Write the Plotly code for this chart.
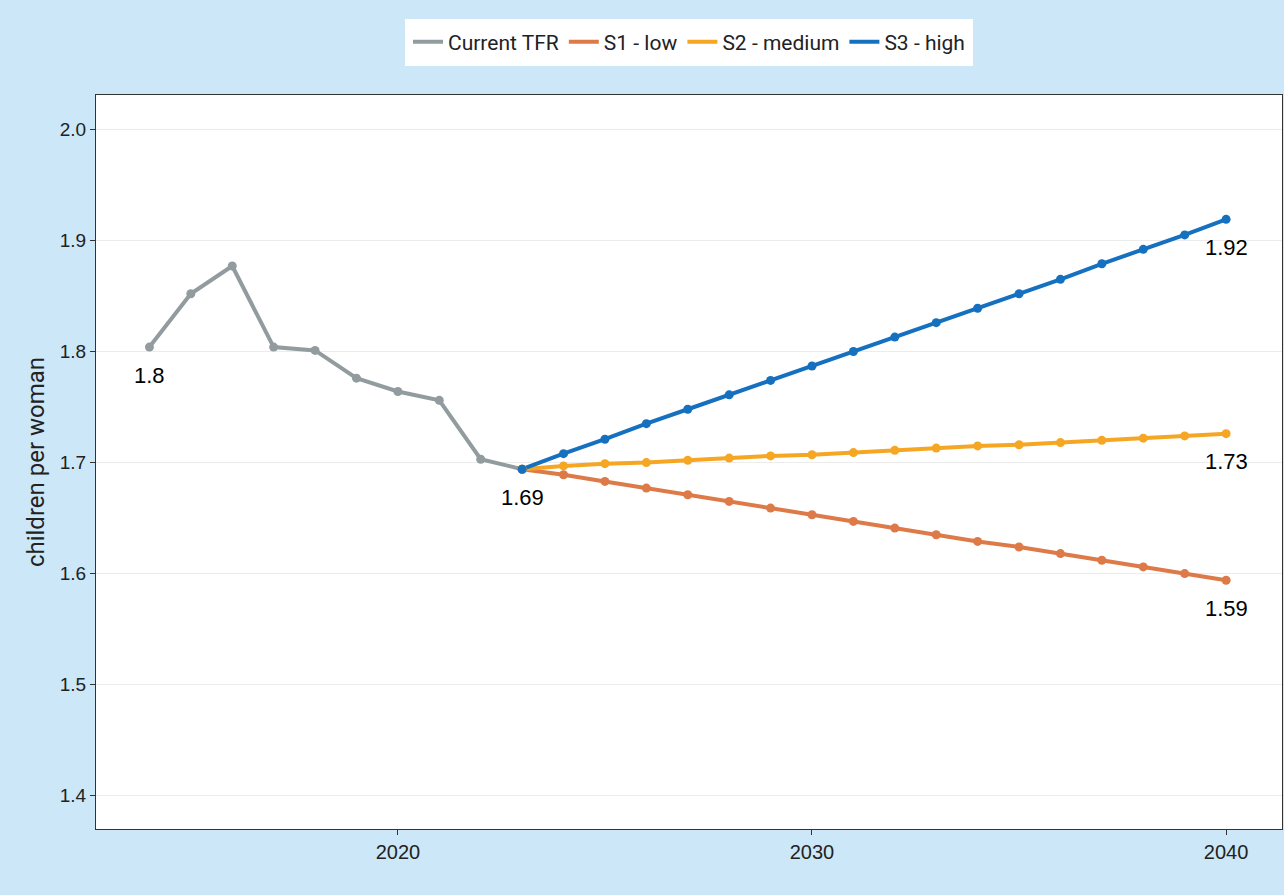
import plotly.graph_objects as go

# observed total fertility rate
hist_years = [2014, 2015, 2016, 2017, 2018, 2019, 2020, 2021, 2022, 2023]
hist_tfr = [1.804, 1.852, 1.877, 1.804, 1.801, 1.776, 1.764, 1.756, 1.703, 1.694]

# scenario projections 2023-2040
proj_years = list(range(2023, 2041))
s1_low = [1.694, 1.689, 1.683, 1.677, 1.671, 1.665, 1.659, 1.653, 1.647, 1.641,
          1.635, 1.629, 1.624, 1.618, 1.612, 1.606, 1.600, 1.594]
s2_medium = [1.694, 1.697, 1.699, 1.700, 1.702, 1.704, 1.706, 1.707, 1.709, 1.711,
             1.713, 1.715, 1.716, 1.718, 1.720, 1.722, 1.724, 1.726]
s3_high = [1.694, 1.708, 1.721, 1.735, 1.748, 1.761, 1.774, 1.787, 1.800, 1.813,
           1.826, 1.839, 1.852, 1.865, 1.879, 1.892, 1.905, 1.919]

series = [
    ("Current TFR", hist_years, hist_tfr, "#929c9e"),
    ("S1 - low", proj_years, s1_low, "#dd7a48"),
    ("S2 - medium", proj_years, s2_medium, "#f5a623"),
    ("S3 - high", proj_years, s3_high, "#1570c0"),
]

fig = go.Figure()
for name, xs, ys, col in series:
    fig.add_trace(go.Scatter(x=xs, y=ys, mode="lines", name=name,
                             line=dict(color=col, width=4)))
for name, xs, ys, col in series:
    fig.add_trace(go.Scatter(x=xs, y=ys, mode="markers", showlegend=False,
                             marker=dict(color=col, size=9)))

# value labels at first / last points
label_pts = [(hist_years[0], hist_tfr[0]), (hist_years[-1], hist_tfr[-1]),
             (proj_years[-1], s3_high[-1]), (proj_years[-1], s2_medium[-1]),
             (proj_years[-1], s1_low[-1])]
for x, y in label_pts:
    fig.add_annotation(x=x, y=y, text=f"{round(y, 2):g}", showarrow=False,
                       yshift=-28, font=dict(family="Liberation Sans", size=22, color="black"))

fig.update_layout(
    width=1284, height=895,
    paper_bgcolor="#cce7f7", plot_bgcolor="white",
    margin=dict(l=96, r=2, t=95, b=66, autoexpand=False),
    font=dict(family="Roboto", size=15, color="#222"),
    legend=dict(orientation="h", x=0.5, xanchor="center", y=1.04, yanchor="bottom",
                bgcolor="white", bordercolor="white", font=dict(size=21), borderwidth=3),
    showlegend=True,
)
fig.update_xaxes(range=[2012.71, 2041.35], tickvals=[2020, 2030, 2040],
                 showgrid=False, zeroline=False, showline=True, linecolor="#333",
                 mirror=True, ticks="outside", ticklen=5, tickcolor="#333",
                 tickfont=dict(family="Liberation Sans", size=20, color="#222"))
fig.update_yaxes(range=[1.370, 2.031], tickvals=[1.4, 1.5, 1.6, 1.7, 1.8, 1.9, 2.0],
                 ticktext=["1.4", "1.5", "1.6", "1.7", "1.8", "1.9", "2.0"],
                 showgrid=True, gridcolor="#ececec", gridwidth=1, zeroline=False,
                 showline=True, linecolor="#333", mirror=True,
                 ticks="outside", ticklen=5, tickcolor="#333",
                 title=dict(text="children per woman", font=dict(size=24, color="#222"), standoff=8),
                 tickfont=dict(family="Liberation Sans", size=19, color="#222"))

# drop the default page margin so the figure sits at the window corner
fig.write_html("out.html", config={"displayModeBar": False},
               post_script="document.body.style.margin='0';")
